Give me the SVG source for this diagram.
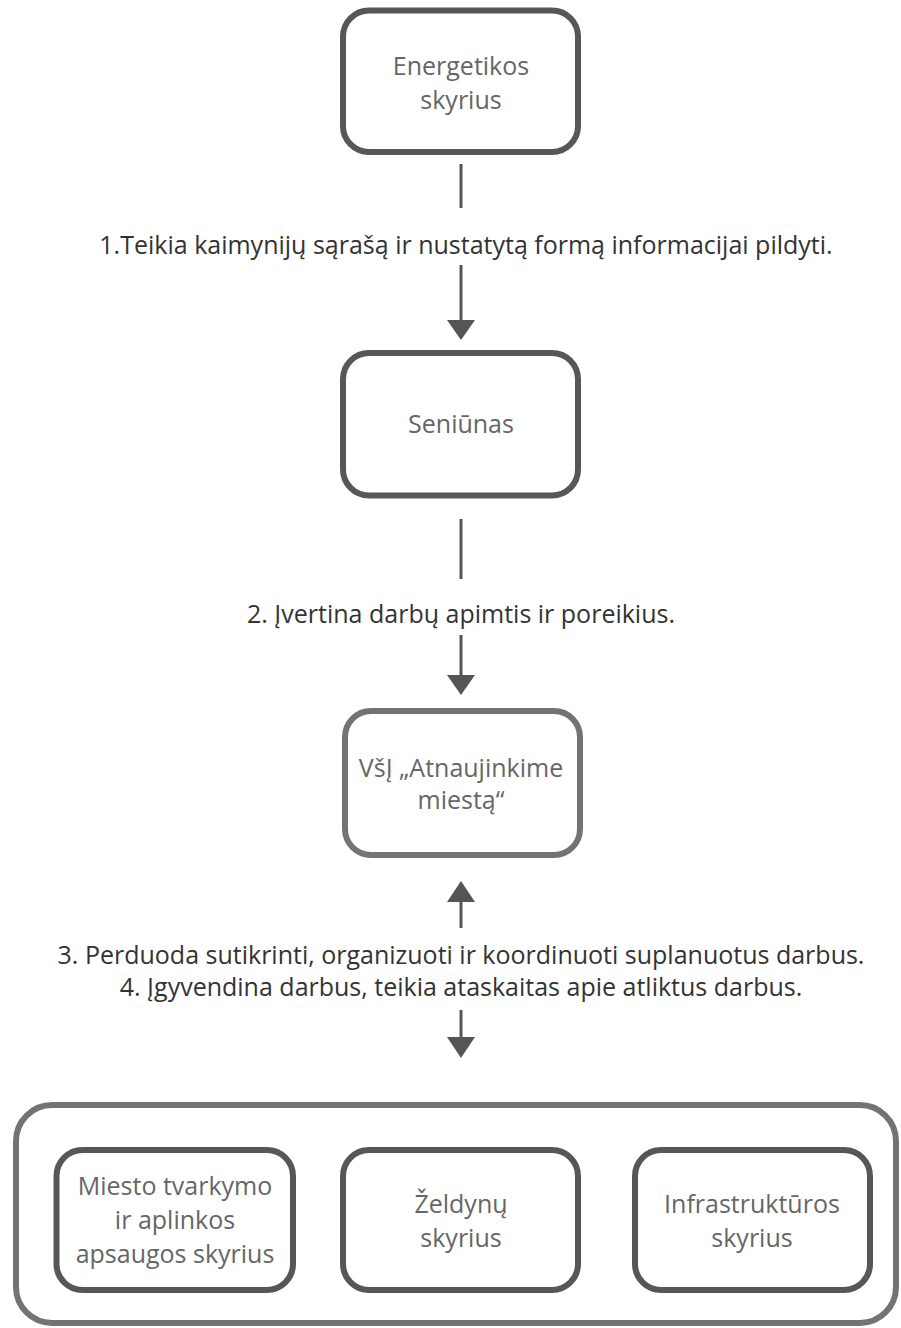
<svg xmlns="http://www.w3.org/2000/svg" width="901" height="1328" viewBox="0 0 901 1328">
<style>
.box{fill:#fff;stroke:#575757;stroke-width:6}
.boxl{fill:#fff;stroke:#737373;stroke-width:6}
.nt{font-family:"Open Sans",sans-serif;font-size:25px;fill:#666;text-anchor:middle}
.lt{font-family:"Open Sans",sans-serif;font-size:25px;fill:#333;text-anchor:middle}
.ln{stroke:#555;stroke-width:3;fill:none}
.ah{fill:#555}
</style>
<rect width="901" height="1328" fill="#fff"/>
<g id="energetikos">
<rect class="box" x="343" y="10.5" width="235" height="141.5" rx="26"/>
<text class="nt" x="461" y="75">Energetikos</text>
<text class="nt" x="461" y="109">skyrius</text>
</g>
<g id="seniunas">
<rect class="box" x="343" y="353" width="235" height="142.5" rx="26"/>
<text class="nt" x="461" y="433">Seniūnas</text>
</g>
<g id="vsi">
<rect class="boxl" x="345" y="711" width="235" height="144" rx="26"/>
<text class="nt" x="461" y="777">VšĮ „Atnaujinkime</text>
<text class="nt" x="461" y="809">miestą“</text>
</g>
<g id="skyriai">
<rect class="boxl" x="16" y="1105" width="880" height="218" rx="36"/>
<g id="miesto">
<rect class="box" x="56.5" y="1150" width="236.5" height="140" rx="26"/>
<text class="nt" x="175" y="1195">Miesto tvarkymo</text>
<text class="nt" x="175" y="1229">ir aplinkos</text>
<text class="nt" x="175" y="1263">apsaugos skyrius</text>
</g>
<g id="zeldynu">
<rect class="box" x="343" y="1150" width="235" height="140" rx="26"/>
<text class="nt" x="461" y="1213">Želdynų</text>
<text class="nt" x="461" y="1247">skyrius</text>
</g>
<g id="infrastrukturos">
<rect class="box" x="635" y="1150" width="235" height="140" rx="26"/>
<text class="nt" x="752" y="1213">Infrastruktūros</text>
<text class="nt" x="752" y="1247">skyrius</text>
</g>
</g>
<g id="connectors">
<line class="ln" x1="461" y1="164" x2="461" y2="208"/>
<text class="lt" x="466" y="254">1.Teikia kaimynijų sąrašą ir nustatytą formą informacijai pildyti.</text>
<line class="ln" x1="461" y1="265" x2="461" y2="322"/>
<polygon class="ah" points="447,320 475,320 461,340"/>
<line class="ln" x1="461" y1="519" x2="461" y2="579"/>
<text class="lt" x="461" y="623">2. Įvertina darbų apimtis ir poreikius.</text>
<line class="ln" x1="461" y1="635" x2="461" y2="677"/>
<polygon class="ah" points="447,675 475,675 461,695"/>
<polygon class="ah" points="447,902 475,902 461,881"/>
<line class="ln" x1="461" y1="900" x2="461" y2="928"/>
<text class="lt" x="461" y="964">3. Perduoda sutikrinti, organizuoti ir koordinuoti suplanuotus darbus.</text>
<text class="lt" x="461" y="996">4. Įgyvendina darbus, teikia ataskaitas apie atliktus darbus.</text>
<line class="ln" x1="461" y1="1010" x2="461" y2="1039"/>
<polygon class="ah" points="447,1037 475,1037 461,1058"/>
</g>
</svg>
